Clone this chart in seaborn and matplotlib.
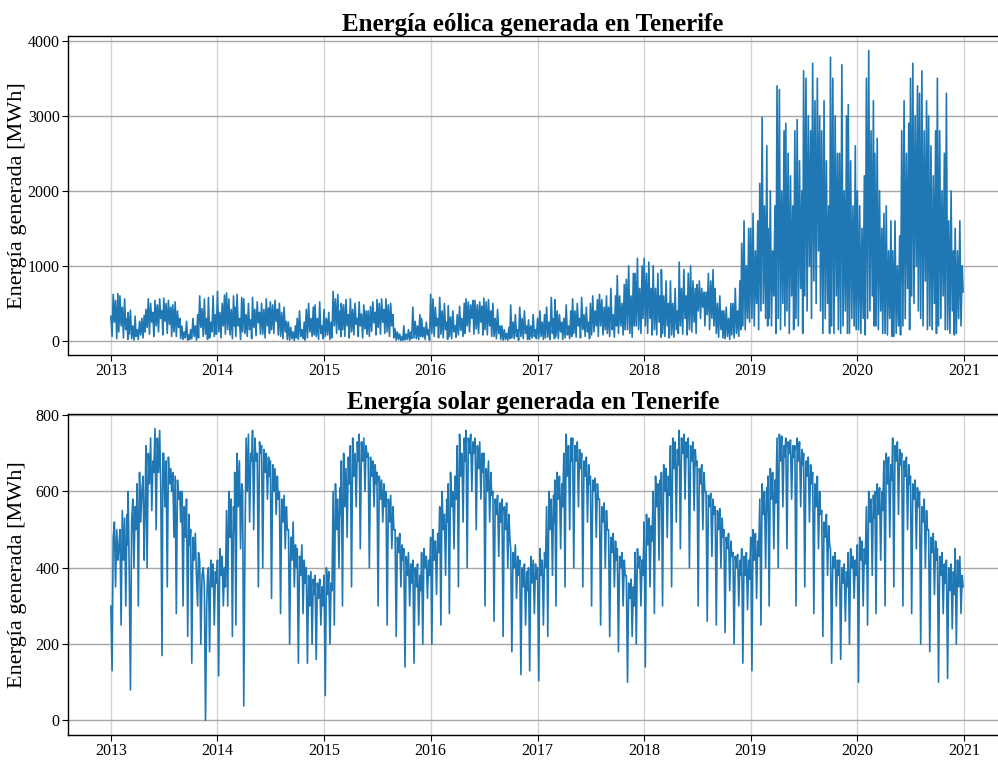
import matplotlib
matplotlib.use("Agg")
import matplotlib.pyplot as plt
import matplotlib.dates as mdates
import seaborn as sns
import pandas as pd

# Eight readings per month (MWh)
wind_2013 = [330, 60, 620, 250, 540, 30, 630, 120,   600, 200, 450, 40, 560, 150, 300, 20,
             380, 90, 410, 30, 200, 10, 330, 60,     150, 20, 260, 80, 300, 40, 340, 120,
             420, 180, 560, 90, 500, 250, 380, 60,   540, 200, 480, 120, 560, 300, 400, 80,
             570, 260, 500, 100, 540, 220, 450, 60,  480, 120, 520, 60, 400, 180, 300, 30,
             200, 20, 120, 40, 260, 10, 80, 20,      150, 30, 300, 60, 200, 10, 350, 40,
             600, 180, 430, 60, 560, 90, 300, 20,    580, 40, 250, 120, 600, 60, 350, 90]
wind_2014 = [660, 120, 380, 40, 500, 200, 610, 90,   640, 150, 560, 80, 420, 30, 600, 200,
             450, 60, 620, 200, 300, 20, 580, 120,   560, 100, 350, 60, 500, 150, 280, 30,
             580, 180, 420, 70, 520, 240, 380, 90,   500, 90, 420, 40, 560, 200, 440, 100,
             520, 150, 480, 100, 540, 260, 420, 80,  500, 60, 380, 30, 450, 120, 260, 20,
             250, 10, 180, 30, 120, 5, 200, 40,      300, 20, 400, 60, 150, 30, 250, 10,
             420, 40, 500, 120, 300, 60, 450, 80,    480, 60, 300, 20, 520, 100, 200, 30]
wind_2015 = [420, 60, 300, 80, 380, 20, 250, 40,     660, 200, 560, 100, 620, 150, 400, 60,
             500, 150, 480, 60, 550, 200, 350, 40,   560, 120, 420, 80, 500, 220, 300, 60,
             520, 200, 360, 40, 480, 160, 400, 90,   400, 60, 460, 130, 520, 240, 380, 80,
             550, 180, 500, 90, 560, 250, 420, 100,  560, 120, 480, 60, 500, 200, 350, 40,
             160, 10, 120, 20, 90, 5, 60, 10,        200, 15, 90, 20, 150, 10, 120, 30,
             450, 40, 260, 30, 200, 20, 350, 60,     300, 50, 180, 20, 250, 80, 150, 10]
wind_2016 = [620, 100, 560, 60, 450, 200, 300, 40,   580, 90, 400, 40, 500, 150, 250, 20,
             470, 60, 320, 30, 400, 120, 200, 50,    350, 80, 460, 140, 300, 60, 500, 100,
             560, 200, 520, 120, 480, 300, 540, 90,  540, 160, 480, 100, 520, 250, 460, 80,
             570, 150, 520, 80, 550, 200, 400, 60,   500, 60, 300, 30, 420, 100, 200, 20,
             200, 10, 150, 20, 100, 10, 180, 30,     480, 40, 250, 30, 350, 60, 150, 10,
             450, 60, 300, 30, 400, 100, 200, 20,    280, 20, 200, 40, 350, 60, 150, 30]
wind_2017 = [300, 30, 400, 60, 250, 20, 350, 40,     450, 50, 250, 20, 580, 100, 300, 30,
             550, 60, 400, 30, 350, 120, 250, 20,    300, 40, 480, 80, 200, 30, 400, 60,
             560, 100, 400, 50, 500, 200, 300, 40,   580, 150, 350, 60, 450, 120, 250, 30,
             500, 80, 600, 120, 400, 200, 550, 60,   620, 200, 550, 80, 450, 150, 600, 100,
             450, 60, 700, 150, 350, 50, 600, 200,   870, 100, 600, 200, 500, 80, 750, 150,
             820, 150, 1000, 100, 600, 50, 900, 200, 900, 200, 1100, 150, 700, 100, 1000, 300]
wind_2018 = [1100, 200, 900, 100, 1050, 300, 700, 80, 1000, 150, 700, 80, 900, 250, 600, 50,
             950, 100, 600, 60, 800, 200, 500, 40,    800, 80, 500, 50, 700, 150, 400, 100,
             1050, 200, 700, 90, 950, 300, 600, 80,   900, 150, 1000, 120, 800, 250, 700, 100,
             750, 400, 800, 300, 700, 450, 650, 200,  650, 350, 900, 150, 800, 300, 950, 200,
             700, 100, 500, 50, 600, 150, 400, 40,    400, 30, 450, 60, 300, 20, 500, 80,
             500, 40, 700, 100, 400, 60, 800, 150,    1300, 200, 1600, 150, 1000, 300, 1500, 250]
wind_2019 = [1500, 300, 1700, 200, 1200, 500, 1600, 150, 2100, 400, 2980, 500, 1800, 300, 2600, 200,
             1500, 300, 2000, 200, 1200, 600, 1800, 100, 3400, 300, 3350, 150, 2000, 500, 2800, 200,
             2900, 400, 2500, 100, 2200, 600, 1800, 150, 2800, 300, 2950, 200, 2400, 700, 2000, 100,
             3600, 600, 3500, 400, 3000, 1000, 2800, 300, 3700, 800, 3200, 500, 3500, 1200, 3000, 400,
             2800, 100, 3200, 300, 2400, 500, 1800, 100, 3780, 200, 3500, 100, 3000, 600, 2500, 150,
             2500, 100, 3680, 200, 2000, 400, 3000, 100, 3150, 100, 2400, 300, 1800, 200, 2600, 150]
wind_2020 = [2000, 150, 1800, 100, 1500, 300, 2200, 80,  3500, 300, 3870, 400, 2800, 600, 3200, 200,
             2500, 200, 2700, 150, 2000, 400, 1500, 100, 1700, 100, 1800, 80, 1200, 300, 1600, 60,
             1200, 60, 1600, 100, 1000, 200, 1400, 80,   2800, 200, 3200, 300, 2500, 700, 2900, 150,
             3500, 600, 3700, 500, 3000, 1000, 3400, 400, 3300, 300, 3600, 200, 2800, 800, 3200, 150,
             3000, 200, 2600, 150, 2200, 500, 2800, 100, 3500, 200, 2800, 300, 2000, 600, 2500, 150,
             3300, 150, 1600, 100, 2000, 400, 1200, 80,  1500, 100, 1200, 300, 1600, 200, 1000, 650]

solar_2013 = [300, 130, 480, 520, 350, 500, 420, 450,  500, 250, 550, 420, 530, 300, 540, 460,
              600, 380, 80, 520, 580, 400, 560, 500,   620, 300, 650, 520, 600, 640, 420, 560,
              720, 400, 700, 620, 740, 550, 680, 650,  765, 500, 740, 650, 760, 600, 170, 700,
              700, 560, 680, 350, 690, 620, 660, 600,  650, 480, 640, 280, 630, 580, 600, 520,
              600, 300, 560, 480, 580, 220, 540, 460,  500, 150, 480, 420, 490, 380, 300, 440,
              420, 200, 380, 400, 350, 0, 300, 380,    400, 180, 420, 350, 410, 250, 390, 360]
solar_2014 = [420, 117, 450, 380, 430, 300, 400, 350,  550, 300, 600, 480, 580, 220, 560, 500,
              650, 250, 700, 560, 680, 450, 620, 600,  38, 450, 740, 600, 750, 520, 700, 680,
              760, 500, 740, 680, 700, 350, 730, 700,  720, 400, 710, 650, 700, 580, 690, 640,
              680, 320, 670, 600, 660, 540, 640, 580,  600, 280, 580, 520, 590, 450, 560, 500,
              500, 200, 480, 420, 520, 350, 460, 400,  450, 150, 430, 380, 460, 280, 420, 360,
              400, 150, 380, 300, 390, 200, 370, 330,  380, 160, 360, 320, 370, 250, 350, 300]
solar_2015 = [380, 65, 400, 330, 390, 200, 360, 340,   600, 250, 620, 500, 580, 400, 610, 540,
              680, 300, 700, 560, 660, 480, 690, 620,  720, 350, 740, 640, 700, 560, 730, 680,
              750, 450, 730, 680, 740, 600, 720, 690,  700, 400, 690, 640, 680, 560, 670, 620,
              650, 300, 640, 580, 630, 520, 620, 560,  600, 250, 580, 520, 590, 450, 560, 500,
              500, 220, 480, 440, 490, 350, 460, 420,  450, 140, 430, 380, 440, 300, 410, 360,
              420, 150, 400, 350, 410, 250, 380, 340,  440, 200, 450, 400, 430, 320, 420, 380]
solar_2016 = [480, 200, 500, 420, 470, 330, 490, 440,  560, 250, 600, 500, 540, 380, 580, 520,
              620, 280, 650, 560, 600, 450, 640, 580,  720, 350, 750, 640, 700, 520, 740, 680,
              760, 400, 740, 700, 750, 600, 730, 700,  740, 500, 720, 660, 730, 580, 700, 650,
              700, 300, 660, 600, 680, 520, 650, 590,  600, 260, 580, 540, 590, 430, 570, 520,
              580, 220, 560, 500, 570, 400, 540, 480,  450, 180, 440, 400, 460, 320, 430, 380,
              420, 120, 400, 350, 410, 250, 390, 340,  400, 130, 430, 360, 420, 280, 410, 370]
solar_2017 = [400, 104, 450, 380, 420, 250, 440, 400,  560, 220, 600, 500, 580, 380, 590, 520,
              630, 300, 650, 580, 640, 450, 620, 560,  700, 350, 750, 640, 720, 500, 740, 680,
              740, 400, 720, 680, 730, 560, 710, 660,  700, 350, 680, 640, 690, 520, 670, 620,
              640, 300, 630, 600, 635, 480, 620, 580,  580, 250, 560, 520, 570, 400, 550, 500,
              500, 220, 480, 440, 490, 350, 470, 420,  450, 180, 430, 400, 440, 300, 420, 380,
              380, 100, 360, 320, 370, 220, 350, 300,  440, 200, 450, 400, 430, 300, 420, 380]
solar_2018 = [520, 140, 540, 460, 530, 350, 510, 470,  600, 280, 640, 560, 620, 420, 630, 570,
              650, 300, 670, 600, 660, 480, 640, 590,  720, 350, 740, 660, 730, 520, 710, 670,
              760, 450, 740, 700, 750, 580, 730, 690,  740, 400, 720, 680, 730, 550, 710, 670,
              680, 300, 660, 620, 670, 500, 650, 600,  600, 260, 590, 560, 595, 430, 580, 540,
              560, 250, 550, 500, 555, 400, 530, 480,  500, 230, 480, 450, 490, 340, 470, 430,
              440, 200, 430, 400, 435, 300, 420, 380,  450, 150, 430, 380, 440, 290, 420, 370]
solar_2019 = [480, 130, 500, 420, 490, 320, 470, 430,  580, 250, 620, 540, 600, 400, 610, 550,
              640, 300, 660, 580, 650, 450, 630, 570,  740, 400, 750, 680, 745, 560, 720, 690,
              740, 450, 730, 700, 735, 580, 720, 690,  720, 300, 740, 680, 730, 560, 710, 670,
              700, 350, 680, 640, 690, 520, 670, 620,  650, 280, 620, 560, 640, 450, 600, 540,
              550, 220, 520, 480, 540, 380, 510, 460,  450, 150, 430, 400, 440, 300, 420, 380,
              420, 160, 400, 360, 410, 260, 390, 350,  440, 200, 450, 400, 430, 320, 420, 380]
solar_2020 = [460, 100, 480, 420, 470, 300, 450, 410,  560, 250, 600, 520, 580, 380, 590, 530,
              600, 280, 620, 540, 610, 420, 600, 550,  680, 300, 700, 620, 690, 480, 670, 630,
              740, 350, 720, 680, 730, 540, 710, 670,  700, 300, 680, 640, 690, 500, 670, 620,
              640, 280, 620, 580, 630, 450, 610, 560,  600, 200, 560, 520, 580, 400, 550, 500,
              500, 180, 480, 440, 490, 330, 470, 420,  450, 100, 430, 380, 440, 280, 410, 360,
              420, 110, 400, 340, 410, 240, 390, 330,  450, 200, 420, 350, 430, 280, 380, 350]

wind = wind_2013 + wind_2014 + wind_2015 + wind_2016 + wind_2017 + wind_2018 + wind_2019 + wind_2020
solar = (solar_2013 + solar_2014 + solar_2015 + solar_2016 + solar_2017 + solar_2018
         + solar_2019 + solar_2020)

sample_days = [0, 4, 8, 12, 16, 20, 24, 27]
months = pd.date_range("2013-01-01", "2020-12-01", freq="MS")
dates = [m + pd.Timedelta(days=d) for m in months for d in sample_days]

df = pd.DataFrame({"fecha": dates, "eolica": wind, "solar": solar})

titles = ["Energía eólica generada en Tenerife", "Energía solar generada en Tenerife"]
ylabel = "Energía generada [MWh]"

sns.set_style("ticks")
plt.rcParams["font.family"] = ["Liberation Serif", "DejaVu Serif"]
plt.rcParams["text.color"] = "black"
plt.rcParams["axes.labelcolor"] = "black"
plt.rcParams["xtick.color"] = "black"
plt.rcParams["ytick.color"] = "black"

fig = plt.figure(figsize=(9.98, 7.64), dpi=100)
ax1 = fig.add_axes([0.0681, 0.5353, 0.932, 0.4175])
ax2 = fig.add_axes([0.0681, 0.038, 0.932, 0.4202])

for ax, col, title in [(ax1, "eolica", titles[0]), (ax2, "solar", titles[1])]:
    sns.lineplot(data=df, x="fecha", y=col, ax=ax, color="#1f77b4", linewidth=1.2)
    ax.set_title(title, fontsize=18, fontweight="bold", pad=3)
    ax.set_ylabel(ylabel, fontsize=16)
    ax.yaxis.set_label_coords(-0.044, 0.5)
    ax.set_xlabel("")
    ax.set_xlim(pd.Timestamp("2012-08-07"), pd.Timestamp("2021-04-27"))
    ax.xaxis.set_major_locator(mdates.YearLocator())
    ax.xaxis.set_major_formatter(mdates.DateFormatter("%Y"))
    ax.tick_params(labelsize=11.5, length=4, width=0.8, pad=2)
    ax.grid(axis="x", color="#d3d3d3", linewidth=1.0)
    ax.grid(axis="y", color="#a8a8a8", linewidth=1.0)
    ax.set_axisbelow(True)
    for side in ["left", "top", "bottom"]:
        ax.spines[side].set_color("black")
        ax.spines[side].set_linewidth(1.0)
    ax.spines["right"].set_visible(False)

ax1.set_yticks([0, 1000, 2000, 3000, 4000])
ax2.set_yticks([0, 200, 400, 600, 800])

fig.savefig("out.png", dpi=100)
